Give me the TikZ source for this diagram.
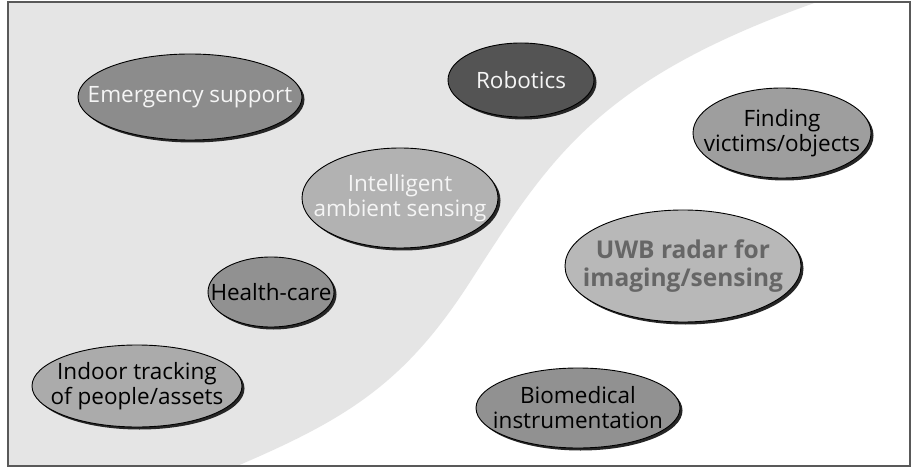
\documentclass[tikz,border=0pt]{standalone}
\usepackage{fontspec}
\setmainfont{Open Sans}
\usetikzlibrary{shapes.geometric,shadows}
\tikzset{
  blob/.style={ellipse, draw=black, line width=0.9pt, inner sep=0pt,
    drop shadow={shadow xshift=2.5pt, shadow yshift=-2.5pt, fill=black!85, opacity=1}},
  lbl/.style={align=center, inner sep=0pt, font=\fontsize{22.5}{25}\selectfont}
}
\begin{document}
\begin{tikzpicture}[x=1pt,y=-1pt]
\useasboundingbox (0,0) rectangle (912,470);
% backgrounds
\fill[white] (0,0) rectangle (912,470);
\fill[black!10] (8,2) -- (817,2)
  .. controls (597,80) and (550,158) .. (470,282)
  .. controls (405,383) and (347,419) .. (237,466)
  -- (8,466) -- cycle;
\draw[black!65, line width=1.6pt] (8,2) rectangle (910,466);
% ellipses
\node[blob, fill=black!45, minimum width=224pt, minimum height=86pt] (es) at (190,97) {};
\node[lbl, text=black!4] at (es) {Emergency support};
\node[blob, fill=black!67, minimum width=146pt, minimum height=74pt] (rb) at (521,80) {};
\node[lbl, text=black!4] at (rb) {Robotics};
\node[blob, fill=black!30, minimum width=196pt, minimum height=100pt] (ia) at (400,198) {};
\node[lbl, text=black!4] at (ia) {Intelligent\\ambient sensing};
\node[blob, fill=black!38, minimum width=178pt, minimum height=90pt] (fv) at (782,133) {};
\node[lbl, text=black] at (fv) {Finding\\victims/objects};
\node[blob, fill=black!28, minimum width=236pt, minimum height=112pt] (uwb) at (683,266) {};
\node[lbl, text=black!60, font=\fontsize{24.5}{28}\selectfont\bfseries] at (uwb) {UWB radar for\\imaging/sensing};
\node[blob, fill=black!43, minimum width=126pt, minimum height=70pt] (hc) at (271,292) {};
\node[lbl, text=black] at (hc) {Health-care};
\node[blob, fill=black!33, minimum width=210pt, minimum height=82pt] (it) at (137,386) {};
\node[lbl, text=black] at (it) {Indoor tracking\\of people/assets};
\node[blob, fill=black!43, minimum width=204pt, minimum height=80pt] (bm) at (578,408) {};
\node[lbl, text=black] at (bm) {Biomedical\\instrumentation};
\end{tikzpicture}
\end{document}
